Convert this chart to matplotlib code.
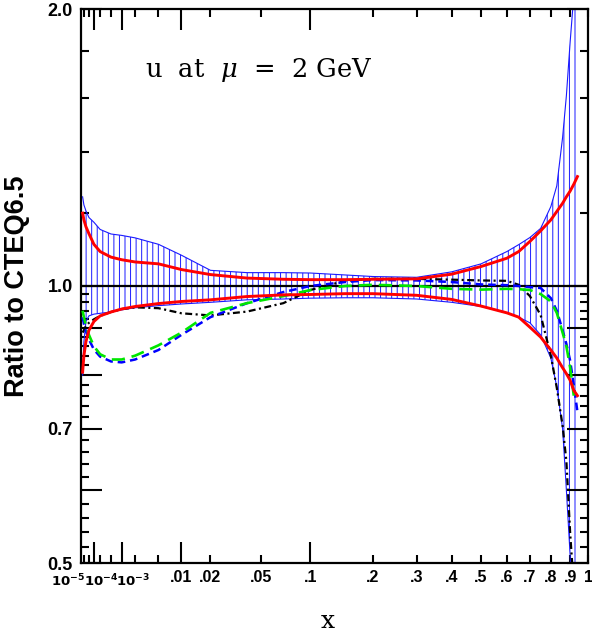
import numpy as np
import matplotlib
matplotlib.use('Agg')
import matplotlib.pyplot as plt

# values
x = [1.5e-5, 2e-5, 3e-5, 5e-5, 1e-4, 2e-4, 5e-4, 1e-3, 2e-3, 5e-3, .01, .02, .04, .07, .1,
     .15, .2, .3, .4, .5, .6, .65, .7, .75, .8, .83, .86, .88, .9, .92, .94]

band_hi = [1.25, 1.225, 1.207, 1.187, 1.173, 1.152, 1.139, 1.135, 1.128, 1.11, 1.08, 1.04, 1.034, 1.034, 1.033,
           1.028, 1.024, 1.022, 1.036, 1.057, 1.09, 1.109, 1.129, 1.155, 1.22, 1.285, 1.45, 1.61, 1.84, 2.07, 2.4]
band_lo = [0.80, 0.87, 0.915, 0.928, 0.932, 0.934, 0.937, 0.942, 0.947, 0.952, 0.956, 0.96, 0.966, 0.968, 0.970,
           0.971, 0.971, 0.968, 0.96, 0.95, 0.935, 0.925, 0.912, 0.885, 0.835, 0.777, 0.70, 0.60, 0.51, 0.42, 0.35]
red_hi = [1.20, 1.18, 1.16, 1.14, 1.11, 1.09, 1.075, 1.068, 1.062, 1.057, 1.042, 1.029, 1.02, 1.017, 1.016,
          1.016, 1.017, 1.018, 1.03, 1.05, 1.072, 1.09, 1.118, 1.148, 1.18, 1.205, 1.23, 1.25, 1.268, 1.29, 1.315]
red_lo = [0.806, 0.84, 0.87, 0.895, 0.915, 0.928, 0.937, 0.944, 0.95, 0.957, 0.962, 0.966, 0.974, 0.978, 0.979,
          0.981, 0.981, 0.977, 0.967, 0.951, 0.935, 0.925, 0.902, 0.88, 0.852, 0.835, 0.815, 0.803, 0.79, 0.77, 0.76]
# black dash-dot stops at x=.92
black = [0.89, 0.895, 0.905, 0.912, 0.92, 0.928, 0.937, 0.944, 0.948, 0.946, 0.934, 0.929, 0.938, 0.958, 0.99,
         1.013, 1.018, 1.018, 1.016, 1.014, 1.013, 1.003, 0.975, 0.93, 0.84, 0.775, 0.705, 0.645, 0.54, 0.47]
blue = [0.925, 0.91, 0.893, 0.875, 0.853, 0.838, 0.828, 0.826, 0.832, 0.852, 0.885, 0.925, 0.958, 0.985, 1.0,
        1.01, 1.015, 1.014, 1.01, 1.004, 1.002, 1.0, 0.997, 0.995, 0.97, 0.94, 0.895, 0.865, 0.83, 0.78, 0.73]
# green long dash stops at x=.92
green = [0.94, 0.925, 0.905, 0.885, 0.86, 0.843, 0.832, 0.832, 0.84, 0.862, 0.89, 0.935, 0.958, 0.975, 0.99,
         1.0, 1.003, 1.0, 0.993, 0.991, 0.993, 0.992, 0.99, 0.98, 0.962, 0.935, 0.89, 0.86, 0.816, 0.76]

major_x = [1e-4, 1e-3, .01, .1]
major_x_labels = ['', '', '.01', '.1']
minor_x = [2e-5, 5e-5, 2e-4, 5e-4, 2e-3, 5e-3, .02, .05, .2, .3, .4, .5, .6, .7, .8, .9, 1.0]
minor_x_labels = ['', '', '', '', '', '', '.02', '.05', '.2', '.3', '.4', '.5', '.6', '.7', '.8', '.9', '1']
pow_labels = [r'$\mathbf{10^{-5}}$', r'$\mathbf{10^{-4}}$', r'$\mathbf{10^{-3}}$']
pow_pos = [1e-5, 1e-4, 1e-3]
pow_shift = [-9.5, 5.5, 8.5]   # points

major_y = [0.5, 0.6, 0.7, 0.8, 0.9, 1.0, 2.0]
major_y_labels = ['0.5', '', '0.7', '', '', '1.0', '2.0']
minor_y = [0.52, 0.54, 0.56, 0.58, 0.62, 0.64, 0.66, 0.68, 0.72, 0.74, 0.76, 0.78,
           0.82, 0.84, 0.86, 0.88, 0.92, 0.94, 0.96, 0.98, 1.2, 1.4, 1.6, 1.8]

plt.rcParams['lines.scale_dashes'] = False
plt.rcParams['hatch.linewidth'] = 0.7

fig = plt.figure(figsize=(5.92, 6.32), dpi=100)
ax = fig.add_axes([81/592, 1-563/632, 507/592, 554/632])

ax.fill_between(x, band_lo, band_hi, facecolor='none', edgecolor='#1a1aff', hatch='|||', linewidth=0, zorder=1)
ax.plot(x, band_hi, color='#1a1aff', lw=0.8, zorder=2)
ax.plot(x, band_lo, color='#1a1aff', lw=0.8, zorder=2)
ax.axhline(1.0, color='black', lw=1.6, zorder=3)

ax.plot(x, red_hi, color='red', lw=2.1, zorder=5)
ax.plot(x, red_lo, color='red', lw=2.1, zorder=5)
ax.plot(x[:len(black)], black, color='black', lw=1.6, dashes=(5, 2.5, 1.5, 2.5), zorder=4)
ax.plot(x, blue, color='#0000ff', lw=1.8, dashes=(5.5, 3.5), zorder=4)
ax.plot(x[:len(green)], green, color='#00e600', lw=1.9, dashes=(9.5, 5), zorder=4)

ax.set_xscale('function', functions=(np.cbrt, lambda u: u**3))
ax.set_yscale('log')
ax.set_xlim(1e-5, 1)
ax.set_ylim(0.5, 2.0)

ax.set_xticks(major_x)
ax.set_xticklabels(major_x_labels)
ax.set_xticks(minor_x, minor=True)
ax.set_xticklabels(minor_x_labels, minor=True)
ax.set_yticks(major_y)
ax.set_yticklabels(major_y_labels)
ax.set_yticks(minor_y, minor=True)
ax.set_yticklabels([], minor=True)

ax.tick_params(which='both', direction='in', top=True, right=True, width=1.5, colors='black')
ax.tick_params(which='major', length=15)
ax.tick_params(which='minor', length=6)
ax.tick_params(axis='x', which='both', pad=5, labelsize=11.5)
ax.tick_params(axis='y', which='both', pad=6, labelsize=13)
for lab in ax.get_xticklabels(which='both') + ax.get_yticklabels():
    lab.set_fontweight('bold')
    lab.set_family('Liberation Sans')
for s in ax.spines.values():
    s.set_linewidth(1.6)

for p, lab, dx in zip(pow_pos, pow_labels, pow_shift):
    ax.annotate(lab, xy=(p, 0), xycoords=('data', 'axes fraction'), xytext=(dx, -17),
                textcoords='offset points', ha='center', va='baseline', fontsize=9.5,
                math_fontfamily='dejavusans', annotation_clip=False)

ax.text(0.126, 0.877, r'u  at  $\mu$  =  2 GeV', transform=ax.transAxes, fontsize=18.5,
        family='DejaVu Serif', math_fontfamily='dejavuserif', va='baseline', ha='left')

ax.set_ylabel('Ratio to CTEQ6.5', fontsize=19.5, fontweight='bold', family='Liberation Sans')
ax.yaxis.set_label_coords(-0.101, 0.5)
ax.set_xlabel('x', fontsize=18, family='DejaVu Serif')
ax.xaxis.set_label_coords(0.487, -0.085)

fig.savefig('out.png', dpi=100)
